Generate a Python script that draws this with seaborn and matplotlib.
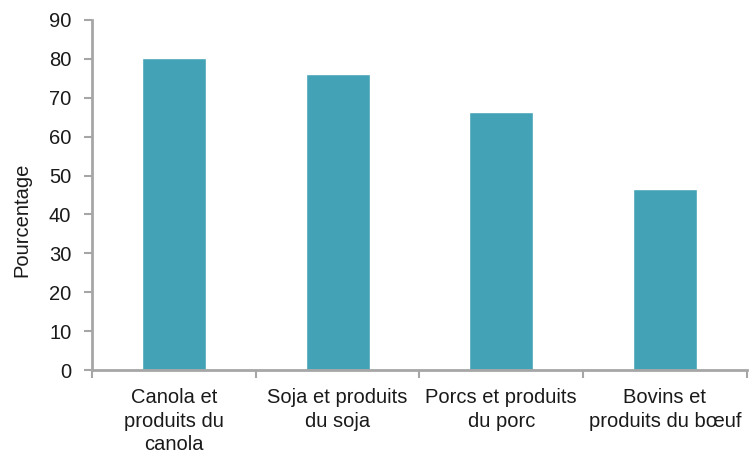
import matplotlib
matplotlib.use("Agg")
import matplotlib.pyplot as plt
import seaborn as sns
import pandas as pd
import numpy as np

categories = [
    "Canola et\nproduits du\ncanola",
    "Soja et produits\ndu soja",
    "Porcs et produits\ndu porc",
    "Bovins et\nproduits du bœuf",
]
values = [80.1, 76.0, 66.4, 46.5]
y_ticks = [0, 10, 20, 30, 40, 50, 60, 70, 80, 90]

sns.set_theme(style="white")
plt.rcParams["font.family"] = ["Liberation Sans", "DejaVu Sans"]

df = pd.DataFrame({"cat": categories, "val": values})

fig = plt.figure(figsize=(7.49, 4.53), dpi=100)
ax = fig.add_axes([0.123, 0.183, 0.874, 0.773])

sns.barplot(data=df, x="cat", y="val", color="#43A2B6", saturation=1,
            width=0.39, ax=ax)

ax.set_xlim(-0.5, len(categories) - 0.5)
ax.set_ylim(0, 90)
ax.set_yticks(y_ticks)
ax.set_yticklabels([str(t) for t in y_ticks], fontsize=14.5, color="#1a1a1a")

# category boundaries carry the tick marks, labels sit between them
ax.set_xticks(np.arange(-0.5, len(categories), 1.0))
ax.set_xticklabels([])
ax.set_xticks(np.arange(len(categories)), minor=True)
ax.set_xticklabels(categories, minor=True, fontsize=14.5, color="#1a1a1a",
                   linespacing=1.3)
ax.tick_params(axis="x", which="minor", length=0, pad=13)
ax.tick_params(axis="x", which="major", direction="out", length=6,
               width=1.5, color="#A6A6A6", bottom=True)
ax.tick_params(axis="y", direction="out", length=6, width=1.5,
               color="#A6A6A6", left=True, pad=9)

ax.set_xlabel("")
ax.set_ylabel("Pourcentage", fontsize=14.5, color="#1a1a1a")
ax.yaxis.set_label_coords(-0.093, 0.43)

for side in ("top", "right"):
    ax.spines[side].set_visible(False)
for side in ("left", "bottom"):
    ax.spines[side].set_color("#A6A6A6")
    ax.spines[side].set_linewidth(2)

fig.savefig("out.png", dpi=100)
